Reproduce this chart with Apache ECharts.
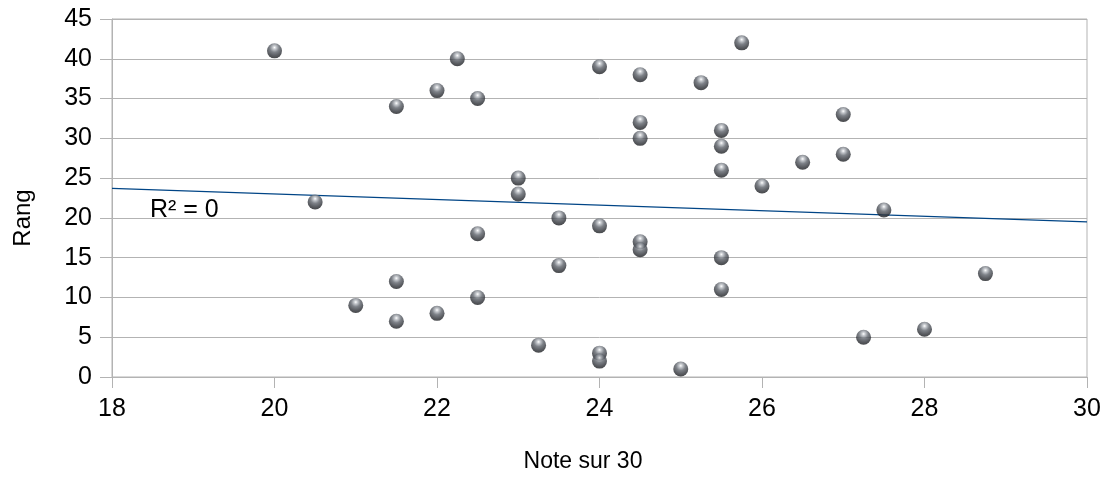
<!DOCTYPE html>
<html>
<head>
<meta charset="utf-8">
<script src="https://cdn.jsdelivr.net/npm/echarts@6/dist/echarts.min.js"></script>
<style>
html,body{margin:0;padding:0;background:#fff;}
#chart{width:1111px;height:478px;}
</style>
</head>
<body>
<div id="chart"></div>
<script>
// Note sur 30 (x) and Rang (y) of each student
var notes = [20, 20.5, 21, 21.5, 21.5, 21.5, 22, 22, 22.25, 22.5, 22.5, 22.5, 23, 23, 23.25, 23.5, 23.5,
             24, 24, 24, 24, 24.5, 24.5, 24.5, 24.5, 24.5, 25, 25.25, 25.5, 25.5, 25.5, 25.5, 25.5,
             25.75, 26, 26.5, 27, 27, 27.25, 27.5, 28, 28.75];
var rangs = [41, 22, 9, 34, 12, 7, 36, 8, 40, 35, 18, 10, 25, 23, 4, 20, 14,
             39, 19, 3, 2, 38, 32, 30, 17, 16, 1, 37, 31, 29, 26, 15, 11,
             42, 24, 27, 33, 28, 5, 21, 6, 13];
// trend line end points
var trendX = [18, 30];
var trendY = [23.7, 19.5];
var xTicks = [18, 20, 22, 24, 26, 28, 30];
var yTicks = [0, 5, 10, 15, 20, 25, 30, 35, 40, 45];
var r2Label = 'R² = 0';
var xName = 'Note sur 30';
var yName = 'Rang';

var points = notes.map(function (n, i) { return [n, rangs[i]]; });
var trend = trendX.map(function (x, i) { return [x, trendY[i]]; });

var FONT = '"Liberation Sans", Arial, sans-serif';
var GRAY = '#b3b3b3';

var chart = echarts.init(document.getElementById('chart'), null, {renderer: 'canvas'});
chart.setOption({
  animation: false,
  backgroundColor: '#ffffff',
  grid: {left: 112, right: 24, top: 19, bottom: 101, show: true, borderColor: GRAY, borderWidth: 1},
  xAxis: {
    type: 'value', min: xTicks[0], max: xTicks[xTicks.length - 1], interval: 2,
    axisLine: {show: true, lineStyle: {color: GRAY, width: 1}},
    axisTick: {show: true, length: 11, lineStyle: {color: GRAY}},
    splitLine: {show: false},
    axisLabel: {color: '#000', fontSize: 25, fontFamily: FONT, margin: 20}
  },
  yAxis: {
    type: 'value', min: yTicks[0], max: yTicks[yTicks.length - 1], interval: 5,
    axisLine: {show: true, lineStyle: {color: GRAY, width: 1}},
    axisTick: {show: true, length: 12, lineStyle: {color: GRAY}},
    splitLine: {show: true, lineStyle: {color: GRAY, width: 1}},
    axisLabel: {color: '#000', fontSize: 25, fontFamily: FONT, margin: 20}
  },
  series: [
    {
      type: 'line', data: trend, showSymbol: false, symbol: 'none',
      lineStyle: {color: '#004586', width: 1.3}, z: 2, silent: true
    },
    {
      type: 'scatter', data: points, symbol: 'circle', symbolSize: 15, z: 3,
      itemStyle: {
        color: {
          type: 'radial', x: 0.5, y: 0.28, r: 0.75,
          colorStops: [
            {offset: 0, color: '#ffffff'},
            {offset: 0.15, color: '#b9bdc3'},
            {offset: 0.42, color: '#5d626a'},
            {offset: 0.75, color: '#2e3137'},
            {offset: 1, color: '#141619'}
          ]
        }
      }
    }
  ],
  graphic: [
    {type: 'text', x: 150, y: 210, style: {text: r2Label, fill: '#000', font: '25px ' + FONT, align: 'left', verticalAlign: 'middle'}},
    {type: 'text', x: 583, y: 462, style: {text: xName, fill: '#000', font: '23px ' + FONT, align: 'center', verticalAlign: 'middle'}},
    {type: 'text', x: 23, y: 218, rotation: Math.PI / 2, style: {text: yName, fill: '#000', font: '24px ' + FONT, align: 'center', verticalAlign: 'middle'}}
  ]
});
</script>
</body>
</html>
